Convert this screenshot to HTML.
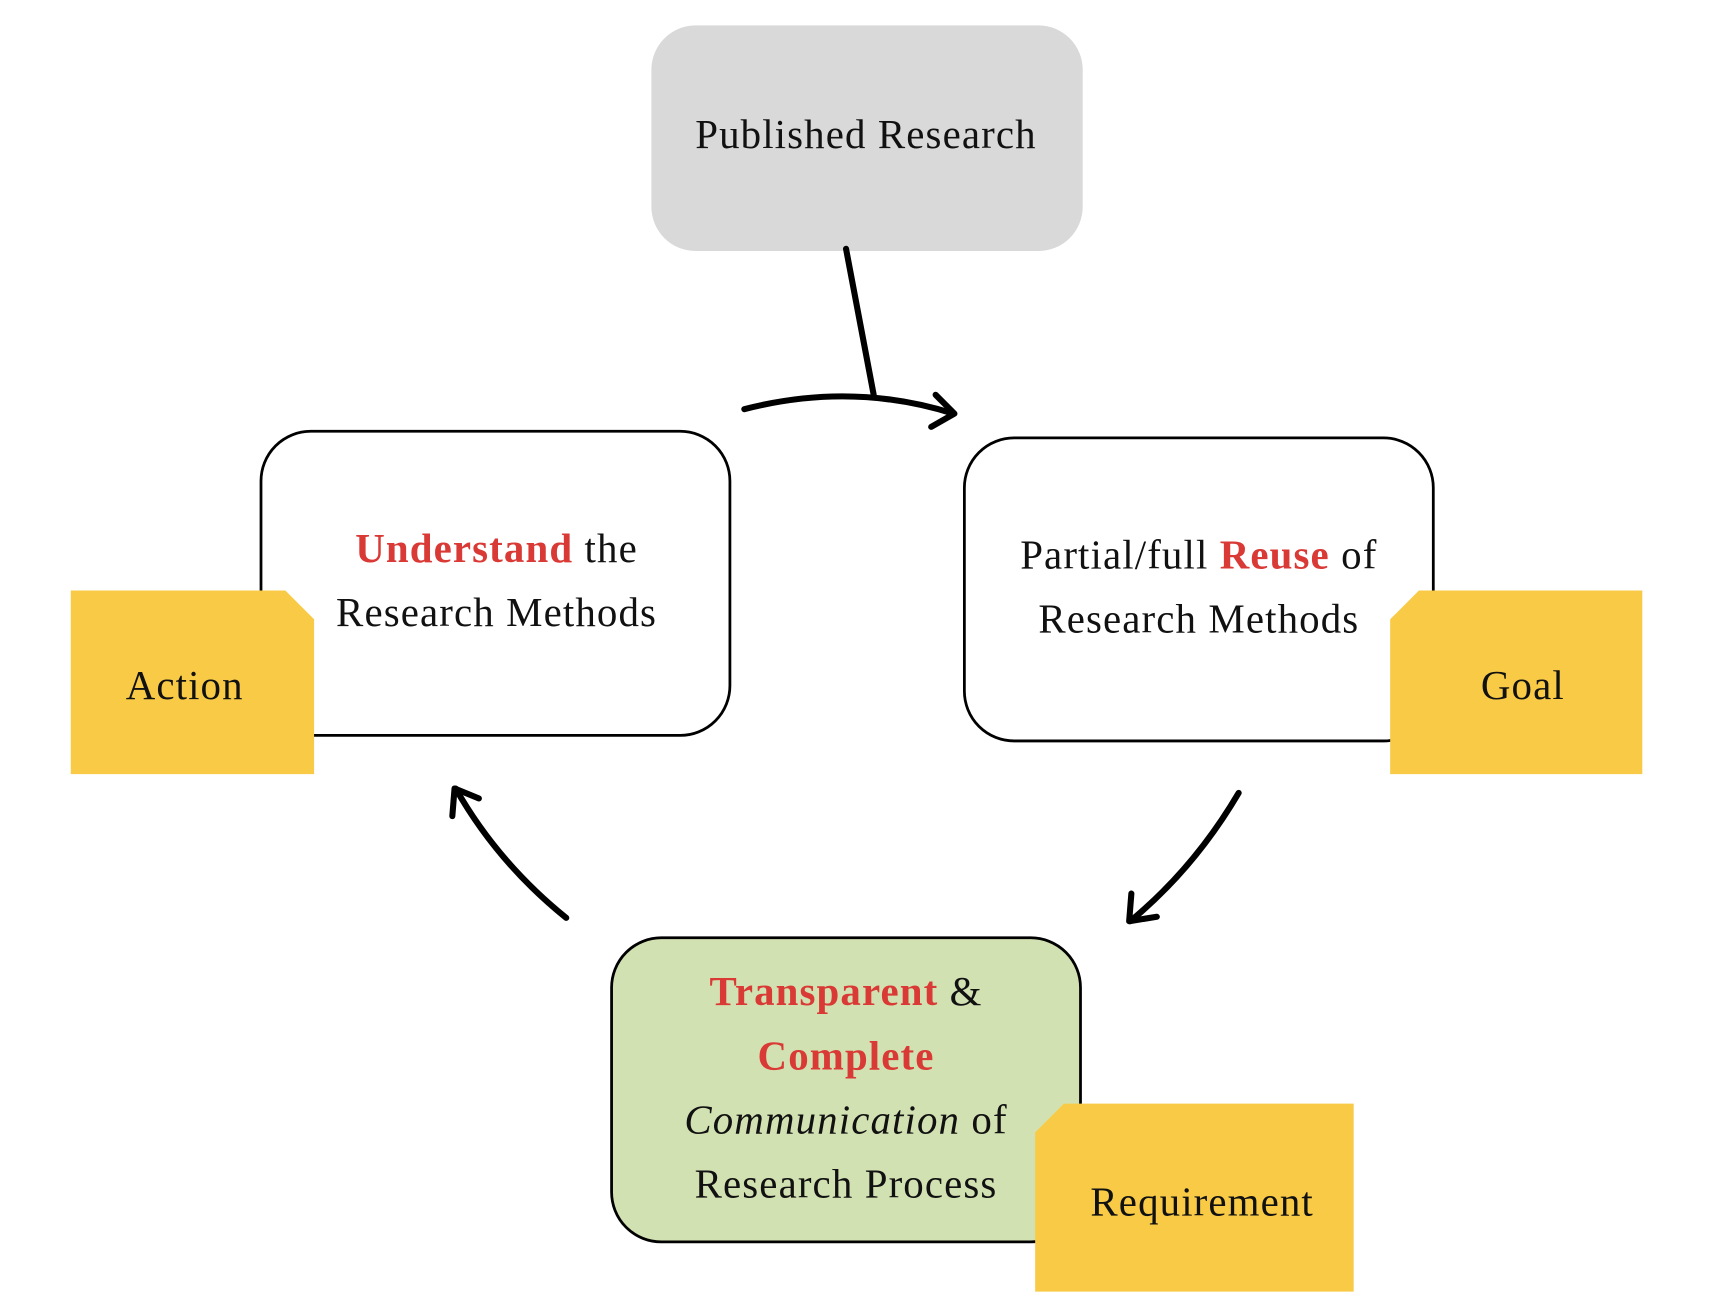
<!DOCTYPE html>
<html><head><meta charset="utf-8"><style>
html,body{margin:0;padding:0;background:#fff;}
svg{display:block;}
text{font-family:"Liberation Serif",serif;font-size:37px;fill:#111;letter-spacing:1px;}
.r{fill:#d93a35;font-weight:bold;}
</style></head><body>
<svg width="1733" height="1316" viewBox="0 0 1567 1190" preserveAspectRatio="none" xmlns="http://www.w3.org/2000/svg">
<rect x="589" y="23" width="390" height="204" rx="40" fill="#d9d9d9"/>
<text x="783" y="134" text-anchor="middle">Published Research</text>

<rect x="236" y="390" width="424" height="275" rx="45" fill="#fff" stroke="#000" stroke-width="2.5"/>
<text x="449" y="508" text-anchor="middle"><tspan class="r">Understand</tspan> the</text>
<text x="449" y="566" text-anchor="middle">Research Methods</text>
<polygon points="64,534 258,534 284,560 284,700 64,700" fill="#f8ca46"/>
<text x="167" y="632" text-anchor="middle">Action</text>

<rect x="872" y="396" width="424" height="274" rx="45" fill="#fff" stroke="#000" stroke-width="2.5"/>
<text x="1084" y="514" text-anchor="middle">Partial/full <tspan class="r">Reuse</tspan> of</text>
<text x="1084" y="572" text-anchor="middle">Research Methods</text>
<polygon points="1283,534 1485,534 1485,700 1257,700 1257,560" fill="#f8ca46"/>
<text x="1377" y="632" text-anchor="middle">Goal</text>

<rect x="553" y="848" width="424" height="275" rx="45" fill="#d2e1b2" stroke="#000" stroke-width="2.5"/>
<text x="765" y="909" text-anchor="middle"><tspan class="r">Transparent</tspan> &amp;</text>
<text x="765" y="967" text-anchor="middle" class="r">Complete</text>
<text x="765" y="1025" text-anchor="middle"><tspan font-style="italic">Communication</tspan> of</text>
<text x="765" y="1083" text-anchor="middle">Research Process</text>
<polygon points="962,998 1224,998 1224,1168 936,1168 936,1024" fill="#f8ca46"/>
<text x="1087" y="1099" text-anchor="middle">Requirement</text>

<g fill="none" stroke="#000" stroke-width="5.5" stroke-linecap="round" stroke-linejoin="round">
<path d="M673,370 Q770,345 862,374"/>
<polyline points="846,357 863,374 842,386"/>
<line x1="765" y1="225" x2="790" y2="357"/>
<path d="M1120,717 Q1080,785 1022,833"/>
<polyline points="1023,808 1021,833 1046,829"/>
<path d="M512,830 Q450,780 412,713"/>
<polyline points="409,738 411,713 433,722"/>
</g>
</svg>
</body></html>
